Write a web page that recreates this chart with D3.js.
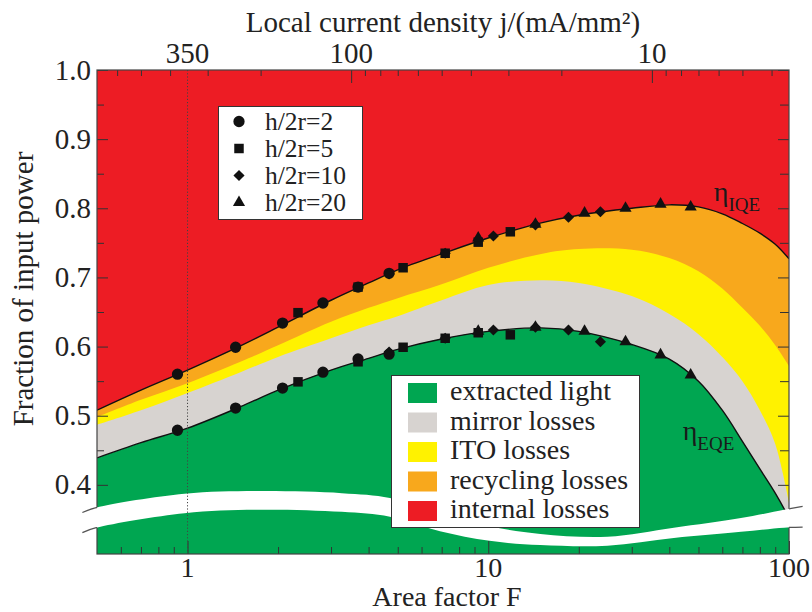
<!DOCTYPE html>
<html><head><meta charset="utf-8">
<script src="https://cdn.jsdelivr.net/npm/d3@7"></script>
<style>
body{margin:0;background:#fff;}
</style></head><body>
<svg id="chart" width="812" height="612" font-family="'Liberation Serif', 'DejaVu Serif', serif"></svg>
<script>
// ---------- data ----------
const areaFactor = [0.5, 0.7, 1, 1.5, 2, 3, 4, 5, 7, 10, 15, 20, 30, 40, 50, 60, 70, 80, 90, 100];
const etaIQE     = [0.508,0.537,0.566,0.601,0.628,0.667,0.692,0.711,0.734,0.757,0.779,0.790,0.800,0.805,0.802,0.792,0.778,0.764,0.748,0.727];
const itoTop     = [0.498,0.523,0.547,0.578,0.602,0.636,0.656,0.670,0.690,0.714,0.734,0.741,0.740,0.728,0.709,0.684,0.656,0.630,0.602,0.572];
const mirrorTop  = [0.487,0.508,0.533,0.563,0.585,0.612,0.631,0.644,0.667,0.689,0.696,0.692,0.673,0.647,0.618,0.585,0.550,0.508,0.459,0.374];
const etaEQE     = [0.439,0.461,0.482,0.513,0.537,0.566,0.583,0.596,0.611,0.622,0.627,0.622,0.603,0.582,0.550,0.508,0.463,0.423,0.388,0.352];

const h2F  = [0.926, 1.445, 2.07, 2.82, 3.69, 4.68];
const h2IQE = [0.560, 0.599, 0.634, 0.663, 0.686, 0.706];
const h2EQE = [0.479, 0.511, 0.540, 0.563, 0.582, 0.589];
const h5F  = [2.33, 3.69, 5.21, 7.19, 9.26, 11.84];
const h5IQE = [0.649, 0.686, 0.714, 0.735, 0.751, 0.766];
const h5EQE = [0.549, 0.578, 0.599, 0.612, 0.620, 0.617];
const h10F  = [4.68, 7.19, 10.4, 14.35, 18.48, 23.6];
const h10IQE = [0.705, 0.735, 0.760, 0.776, 0.787, 0.795];
const h10EQE = [0.592, 0.612, 0.624, 0.628, 0.624, 0.607];
const h20F  = [9.26, 14.35, 20.9, 28.6, 37.4, 47.1];
const h20IQE = [0.757, 0.777, 0.793, 0.800, 0.806, 0.802];
const h20EQE = [0.622, 0.628, 0.622, 0.607, 0.588, 0.559];

// axis-break band (in data units)
const bandF      = [0.447,0.497,0.977,1.711,3.26,4.71,6.91,10.1,14.9,24.9,41.4,69.2,96.3,111];
const bandTop    = [0.360,0.367,0.387,0.391,0.388,0.381,0.358,0.340,0.329,0.325,0.338,0.352,0.364,0.369];
const bandBottom = [0.331,0.338,0.359,0.364,0.361,0.354,0.333,0.319,0.313,0.312,0.323,0.332,0.338,0.339];

const areaNames = ["extracted light","mirror losses","ITO losses","recycling losses","internal losses"];
const areaColors = ["#00A651","#D7D3D0","#FFF200","#F8A81C","#ED1C24"];
const markerNames = ["h/2r=2","h/2r=5","h/2r=10","h/2r=20"];
const yMajor = [0.4,0.5,0.6,0.7,0.8,0.9,1.0];
const yMinor = [0.35,0.45,0.55,0.65,0.75,0.85,0.95];
const xMajor = [1,10,100];
const xMinor = [0.6,0.7,0.8,0.9,2,3,4,5,6,7,8,9,20,30,40,50,60,70,80,90];
const jConst = 350;            // j = 350 / F
const jMajor = [100,10];
const jMinor = [600,500,400,300,200,90,80,70,60,50,40,30,20,9,8,7,6,5,4];
const jLabels = [350,100,10];

// ---------- layout ----------
const FONT = "'Liberation Serif', 'DejaVu Serif', serif";
const L=97, R=789, T=70, B=554;
const svg = d3.select("#chart");
const x = d3.scaleLog().domain([0.5,100]).range([L,R]);
const y = d3.scaleLinear().domain([0.3,1.0]).range([B,T]);
const xj = d3.scaleLog().domain([jConst/0.5, jConst/100]).range([L,R]);
const curve = d3.curveCatmullRom.alpha(0.5);

const defs = svg.append("defs");
defs.append("clipPath").attr("id","plotclip").append("rect")
  .attr("x",L).attr("y",T).attr("width",R-L).attr("height",B-T);
const oc = defs.append("clipPath").attr("id","outclip");
oc.append("rect").attr("x",0).attr("y",0).attr("width",L).attr("height",612);
oc.append("rect").attr("x",R).attr("y",0).attr("width",812-R).attr("height",612);

const plot = svg.append("g").attr("clip-path","url(#plotclip)");
plot.append("rect").attr("x",L).attr("y",T).attr("width",R-L).attr("height",B-T).attr("fill",areaColors[4]);

const rows = areaFactor.map((F,i)=>({F, iqe:etaIQE[i], ito:itoTop[i], mir:mirrorTop[i], eqe:etaEQE[i]}));
const mkArea = key => d3.area().x(d=>x(d.F)).y0(y(0.3)).y1(d=>y(d[key])).curve(curve);
[["iqe",3],["ito",2],["mir",1],["eqe",0]].forEach(([k,c])=>{
  plot.append("path").datum(rows).attr("d",mkArea(k)).attr("fill",areaColors[c]);
});
const mkLine = key => d3.line().x(d=>x(d.F)).y(d=>y(d[key])).curve(curve);
["iqe","eqe"].forEach(k=>{
  plot.append("path").datum(rows).attr("d",mkLine(k)).attr("fill","none").attr("stroke","#111").attr("stroke-width",1.4);
});

// markers
const symCircle = d3.symbol().type(d3.symbolCircle).size(100)();
const symSquare = d3.symbol().type(d3.symbolSquare).size(90)();
const symDiamond = d3.symbol().type(d3.symbolSquare).size(62)();
const symTriangle = d3.symbol().type(d3.symbolTriangle).size(64)();
const markerSets = [
  {F:h2F, a:h2IQE, b:h2EQE, p:symCircle, rot:0},
  {F:h5F, a:h5IQE, b:h5EQE, p:symSquare, rot:0},
  {F:h10F, a:h10IQE, b:h10EQE, p:symDiamond, rot:45},
  {F:h20F, a:h20IQE, b:h20EQE, p:symTriangle, rot:0}
];
markerSets.forEach(s=>{
  s.F.forEach((F,i)=>{
    [s.a[i], s.b[i]].forEach(v=>{
      plot.append("path").attr("d",s.p).attr("fill","#111")
        .attr("transform",`translate(${x(F)},${y(v)}) rotate(${s.rot})`);
    });
  });
});

// axes (ticks inward)
const axG = svg.append("g");
function ticks(axis, tr){ const g=axG.append("g").attr("transform",tr).call(axis); g.select(".domain").remove(); g.selectAll("line").attr("stroke","#333"); g.selectAll("text").remove(); return g;}
ticks(d3.axisLeft(y).tickValues(yMajor).tickSize(-11), `translate(${L},0)`);
ticks(d3.axisLeft(y).tickValues(yMinor).tickSize(-7), `translate(${L},0)`);
ticks(d3.axisRight(y).tickValues(yMajor).tickSize(-11), `translate(${R},0)`);
ticks(d3.axisRight(y).tickValues(yMinor).tickSize(-9), `translate(${R},0)`);
ticks(d3.axisBottom(x).tickValues(xMajor).tickSize(-13), `translate(0,${B})`);
ticks(d3.axisBottom(x).tickValues(xMinor).tickSize(-7), `translate(0,${B})`);
ticks(d3.axisTop(xj).tickValues(jMajor).tickSize(-13), `translate(0,${T})`);
ticks(d3.axisTop(xj).tickValues(jMinor).tickSize(-6), `translate(0,${T})`);
axG.append("rect").attr("x",L).attr("y",T).attr("width",R-L).attr("height",B-T)
  .attr("fill","none").attr("stroke","#444").attr("stroke-width",1.2);

// tick labels
const fs = 29;
function txt(sel){ return sel.append("text").attr("font-family",FONT).attr("fill","#222"); }
yMajor.forEach(v=>txt(svg).attr("x",L-6).attr("y",y(v)).attr("dy","0.33em")
  .attr("text-anchor","end").attr("font-size",fs).text(v.toFixed(1)));
xMajor.forEach(v=>txt(svg).attr("x",x(v)).attr("y",577)
  .attr("text-anchor","middle").attr("font-size",28).text(v));
jLabels.forEach(v=>txt(svg).attr("x",xj(v)).attr("y",63)
  .attr("text-anchor","middle").attr("font-size",fs).text(v));

// axis titles
txt(svg).attr("x",(L+R)/2).attr("y",32).attr("text-anchor","middle").attr("font-size",fs)
  .text("Local current density j/(mA/mm²)");
txt(svg).attr("x",(L+R)/2+4).attr("y",605.5).attr("text-anchor","middle").attr("font-size",28)
  .text("Area factor F");
txt(svg).attr("transform","translate(33,289) rotate(-90)").attr("text-anchor","middle").attr("font-size",fs)
  .text("Fraction of input power");

// axis-break band
const bandRows = bandF.map((F,i)=>({F, t:bandTop[i], b:bandBottom[i]}));
svg.append("path").datum(bandRows)
  .attr("d", d3.area().x(d=>x(d.F)).y0(d=>y(d.b)).y1(d=>y(d.t)).curve(d3.curveCatmullRom))
  .attr("fill","#fff");
const edges = svg.append("g").attr("clip-path","url(#outclip)");
["t","b"].forEach(k=>edges.append("path").datum(bandRows)
  .attr("d", d3.line().x(d=>x(d.F)).y(d=>y(d[k])).curve(d3.curveCatmullRom))
  .attr("fill","none").attr("stroke","#555").attr("stroke-width",1.3));

// dotted line at F = 1
svg.append("line").attr("x1",x(1)).attr("x2",x(1)).attr("y1",T).attr("y2",B)
  .attr("stroke","#444").attr("stroke-width",1).attr("stroke-dasharray","1.2,2");

// eta labels
function eta(F, v, sub){
  const t = txt(svg).attr("x",x(F)).attr("y",y(v)).attr("font-size",28).attr("fill","#1a1a1a");
  t.append("tspan").text("η");
  t.append("tspan").attr("dy",10).attr("font-size",19).text(sub);
}
eta(56.2, 0.811, "IQE");
eta(44.3, 0.465, "EQE");

// marker legend
const ml = svg.append("g");
ml.append("rect").attr("x",218.5).attr("y",106.5).attr("width",144).attr("height",113)
  .attr("fill","#fff").attr("stroke","#333").attr("stroke-width",1);
const legSyms = [[symCircle,0],[symSquare,0],[symDiamond,45],[symTriangle,0]];
markerNames.forEach((n,i)=>{
  const cy = 121.5 + i*27;
  ml.append("path").attr("d",legSyms[i][0]).attr("fill","#111")
    .attr("transform",`translate(239,${cy}) rotate(${legSyms[i][1]})`);
  txt(ml).attr("x",265).attr("y",cy+8).attr("font-size",25.5).text(n);
});

// area legend
const al = svg.append("g");
al.append("rect").attr("x",391.5).attr("y",375.5).attr("width",248).attr("height",152)
  .attr("fill","#fff").attr("stroke","#333").attr("stroke-width",1);
areaNames.forEach((n,i)=>{
  const cy = 393 + i*29.5;
  al.append("rect").attr("x",408).attr("y",cy-10).attr("width",29).attr("height",20).attr("fill",areaColors[i]);
  txt(al).attr("x",450).attr("y",cy+7).attr("font-size",28).text(n);
});
</script>
</body></html>
